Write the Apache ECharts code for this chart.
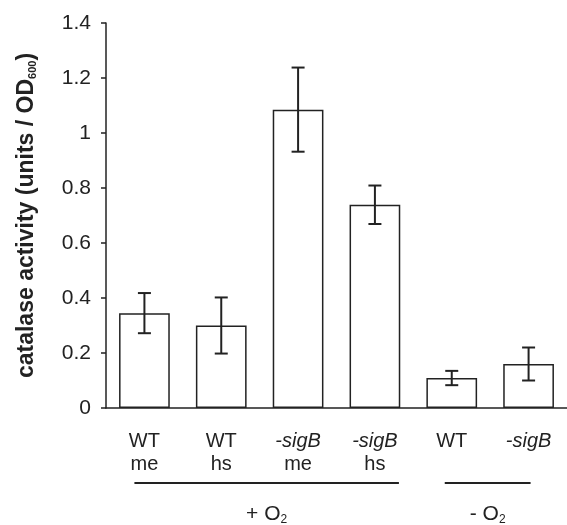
<!DOCTYPE html>
<html>
<head>
<meta charset="utf-8">
<script src="https://cdn.jsdelivr.net/npm/echarts@6/dist/echarts.min.js"></script>
<style>
  html, body { margin: 0; padding: 0; background: #fff; }
  #main { width: 567px; height: 525px; }
</style>
</head>
<body>
<div id="main"></div>
<script>
// data
var categories = ['WT\nme', 'WT\nhs', '-sigB\nme', '-sigB\nhs', 'WT', '-sigB'];
var means = [0.345, 0.300, 1.085, 0.739, 0.109, 0.160];
var errs = [0.073, 0.102, 0.153, 0.070, 0.026, 0.060];
var yTicks = [0, 0.2, 0.4, 0.6, 0.8, 1, 1.2, 1.4];
// groups: [first index, last index, label]
var groups = [[0, 3, '+ O'], [4, 5, '- O']];

var errData = means.map(function (m, i) {
  return [i, m - errs[i], m + errs[i]];
});

var ink = '#222';
var fontFam = '"Liberation Sans", Arial, sans-serif';

var chart = echarts.init(document.getElementById('main'));
var option = {
  backgroundColor: '#fff',
  animation: false,
  grid: { left: 106, top: 23, bottom: 117, right: -5 },
  xAxis: {
    type: 'category',
    data: categories,
    axisLine: { lineStyle: { color: ink, width: 1.5 } },
    axisTick: { length: 5, lineStyle: { color: ink, width: 1.5 } },
    axisLabel: {
      interval: 0,
      margin: 22,
      color: ink,
      fontSize: 20,
      fontFamily: fontFam,
      lineHeight: 23,
      formatter: function (v) {
        return v.split('\n').map(function (s) {
          return s.indexOf('-sigB') === 0 ? '{i|' + s + '}' : '{n|' + s + '}';
        }).join('\n');
      },
      rich: {
        n: { fontSize: 20, fontFamily: fontFam, color: ink, lineHeight: 23 },
        i: { fontSize: 20, fontFamily: fontFam, color: ink, fontStyle: 'italic', lineHeight: 23 }
      }
    }
  },
  yAxis: {
    type: 'value',
    min: 0,
    max: 1.4,
    interval: 0.2,
    name: '{t|catalase activity (units / OD}{s|600}{t|)}',
    nameLocation: 'middle',
    nameGap: 68,
    nameTextStyle: {
      rich: {
        t: { fontSize: 23, fontWeight: 'bold', fontFamily: fontFam, color: ink },
        s: { fontSize: 11, fontWeight: 'bold', fontFamily: fontFam, color: ink, verticalAlign: 'bottom', padding: [10, 0, 0, 0] }
      }
    },
    splitLine: { show: false },
    axisLine: { show: true, lineStyle: { color: ink, width: 1.5 } },
    axisTick: { show: true, length: 5, lineStyle: { color: ink, width: 1.5 } },
    axisLabel: {
      margin: 15,
      color: ink,
      fontSize: 21,
      fontFamily: fontFam,
      formatter: function (v) {
        return yTicks.indexOf(+v.toFixed(1)) >= 0 ? String(+v.toFixed(1)) : '';
      }
    }
  },
  series: [
    {
      type: 'bar',
      data: means,
      barWidth: '66%',
      itemStyle: { color: '#fff', borderColor: ink, borderWidth: 1.5 }
    },
    {
      type: 'custom',
      data: errData,
      z: 5,
      renderItem: function (params, api) {
        var lo = api.coord([api.value(0), api.value(1)]);
        var hi = api.coord([api.value(0), api.value(2)]);
        var hw = 6.5;
        var st = { stroke: ink, lineWidth: 2 };
        return {
          type: 'group',
          children: [
            { type: 'line', shape: { x1: lo[0], y1: lo[1], x2: hi[0], y2: hi[1] }, style: st },
            { type: 'line', shape: { x1: lo[0] - hw, y1: lo[1], x2: lo[0] + hw, y2: lo[1] }, style: st },
            { type: 'line', shape: { x1: hi[0] - hw, y1: hi[1], x2: hi[0] + hw, y2: hi[1] }, style: st }
          ]
        };
      }
    }
  ]
};
chart.setOption(option);

// group underlines and labels below the category labels
var y0 = chart.convertToPixel({ yAxisIndex: 0 }, 0);
var gfx = [];
groups.forEach(function (g, k) {
  var xa = chart.convertToPixel({ xAxisIndex: 0 }, g[0]);
  var xb = chart.convertToPixel({ xAxisIndex: 0 }, g[1]);
  var l = k === 0 ? xa - 10 : xa - 7;
  var r = k === 0 ? xb + 24 : xb + 2;
  gfx.push({
    type: 'line',
    shape: { x1: l, y1: y0 + 75, x2: r, y2: y0 + 75 },
    style: { stroke: ink, lineWidth: 2 }
  });
  gfx.push({
    type: 'text',
    x: (l + r) / 2,
    y: y0 + 106,
    style: {
      text: '{a|' + g[2] + '}{s|2}',
      align: 'center',
      verticalAlign: 'middle',
      rich: {
        a: { fontSize: 21, fontFamily: fontFam, fill: ink },
        s: { fontSize: 12, fontFamily: fontFam, fill: ink, verticalAlign: 'bottom', padding: [11, 0, 0, 0] }
      }
    }
  });
});
chart.setOption({ graphic: gfx });
</script>
</body>
</html>
